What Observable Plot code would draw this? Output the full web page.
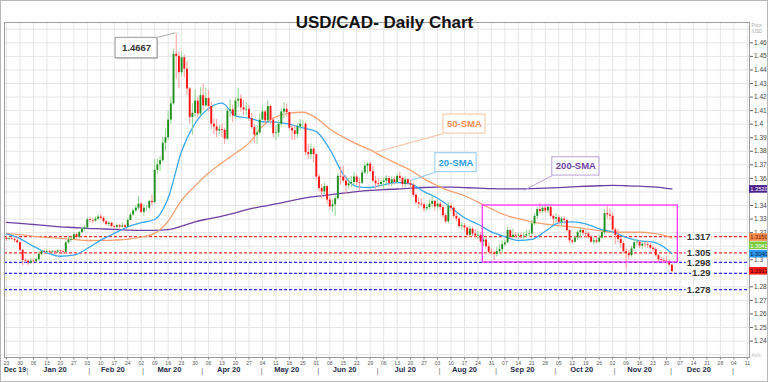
<!DOCTYPE html>
<html><head><meta charset="utf-8">
<script src="https://cdn.jsdelivr.net/npm/d3@7"></script>
<script src="https://cdn.jsdelivr.net/npm/@observablehq/plot@0.6"></script>
<style>
body{margin:0;background:#fff;}
#chart svg{display:block;outline:1px solid #b8b8b8;outline-offset:-1px;}
</style></head><body><div id="chart"></div>
<script>
const title = "USD/CAD- Daily Chart";
// trading-day index 0 = Mon 23 Dec 2019
const firstOpen = 1.3160;
const closes = [
1.3150,1.3155,1.3150,1.3140,1.3125, 1.3070,1.2995,1.2990,1.2975,1.2990,
1.2985,1.3000,1.3040,1.3060,1.3055, 1.3060,1.3055,1.3060,1.3055,1.3065,
1.3060,1.3055,1.3125,1.3145,1.3150, 1.3185,1.3165,1.3200,1.3225,1.3235,
1.3295,1.3290,1.3285,1.3300,1.3315, 1.3305,1.3280,1.3260,1.3270,1.3245,
1.3240,1.3250,1.3240,1.3250,1.3240, 1.3290,1.3330,1.3360,1.3380,1.3410,
1.3350,1.3380,1.3380,1.3430,1.3420, 1.3660,1.3700,1.3730,1.3860,1.3900,
1.4030,1.4150,1.4515,1.4500,1.4380, 1.4490,1.4405,1.4260,1.4050,1.4080,
1.4170,1.4075,1.4210,1.4135,1.4190, 1.4130,1.4000,1.3980,1.3950,1.3960,
1.3955,1.3890,1.4095,1.4105,1.4060, 1.4170,1.4185,1.4120,1.4105,1.4110,
1.4040,1.3975,1.3920,1.3935,1.4030, 1.4090,1.4025,1.4130,1.4030,1.3930,
1.3935,1.4000,1.4090,1.4110,1.4085, 1.3970,1.3950,1.3925,1.3980,1.4000,
1.4000,1.3790,1.3775,1.3815,1.3775, 1.3610,1.3525,1.3500,1.3540,1.3440,
1.3390,1.3405,1.3450,1.3615,1.3610, 1.3580,1.3545,1.3560,1.3570,1.3610,
1.3570,1.3565,1.3640,1.3690,1.3705, 1.3650,1.3580,1.3560,1.3555,1.3570,
1.3580,1.3600,1.3565,1.3590,1.3570, 1.3615,1.3600,1.3555,1.3590,1.3560,
1.3550,1.3475,1.3420,1.3410,1.3405, 1.3375,1.3385,1.3410,1.3430,1.3390,
1.3410,1.3385,1.3325,1.3280,1.3395, 1.3380,1.3320,1.3300,1.3245,1.3250,
1.3235,1.3180,1.3225,1.3190,1.3175, 1.3180,1.3130,1.3145,1.3095,1.3055,
1.3050,1.3040,1.3060,1.3075,1.3110, 1.3125,1.3215,1.3165,1.3180,1.3175,
1.3180,1.3170,1.3175,1.3185,1.3190, 1.3265,1.3320,1.3370,1.3355,1.3380,
1.3360,1.3385,1.3320,1.3300,1.3310, 1.3275,1.3300,1.3290,1.3215,1.3140,
1.3130,1.3160,1.3200,1.3215,1.3195, 1.3190,1.3165,1.3130,1.3140,1.3130,
1.3160,1.3200,1.3340,1.3330,1.3320, 1.3220,1.3180,1.3150,1.3120,1.3060,
1.3045,1.3030,1.3080,1.3125,1.3130, 1.3100,1.3115,1.3110,1.3105,1.3085,
1.3075,1.3030,1.3000,1.2995,1.2990, 1.2985,1.2960,1.2913];
const highs = [
1.3175,1.3165,1.3160,1.3160,1.3165, 1.3130,1.3075,1.3005,1.3000,1.3010,
1.3010,1.3015,1.3060,1.3070,1.3070, 1.3075,1.3070,1.3070,1.3065,1.3075,
1.3070,1.3070,1.3135,1.3165,1.3165, 1.3200,1.3195,1.3210,1.3240,1.3250,
1.3310,1.3310,1.3305,1.3315,1.3330, 1.3330,1.3315,1.3290,1.3280,1.3275,
1.3255,1.3265,1.3260,1.3270,1.3260, 1.3305,1.3345,1.3375,1.3395,1.3465,
1.3420,1.3405,1.3400,1.3440,1.3480, 1.3740,1.3740,1.3760,1.3900,1.3965,
1.4095,1.4200,1.4550,1.4667,1.4530, 1.4530,1.4510,1.4460,1.4270,1.4150,
1.4250,1.4200,1.4270,1.4295,1.4265, 1.4250,1.4165,1.4040,1.4035,1.3990,
1.4000,1.3970,1.4110,1.4180,1.4140, 1.4195,1.4265,1.4215,1.4175,1.4160,
1.4140,1.4080,1.3995,1.3990,1.4075, 1.4135,1.4100,1.4170,1.4140,1.4050,
1.3990,1.4025,1.4110,1.4160,1.4150, 1.4090,1.3990,1.3990,1.4000,1.4035,
1.4025,1.4010,1.3850,1.3855,1.3830, 1.3785,1.3630,1.3555,1.3565,1.3545,
1.3460,1.3440,1.3470,1.3635,1.3685, 1.3690,1.3620,1.3600,1.3615,1.3645,
1.3630,1.3600,1.3660,1.3715,1.3715, 1.3720,1.3690,1.3615,1.3600,1.3590,
1.3600,1.3620,1.3615,1.3610,1.3610, 1.3630,1.3645,1.3610,1.3610,1.3600,
1.3590,1.3565,1.3490,1.3455,1.3450, 1.3420,1.3405,1.3440,1.3470,1.3440,
1.3435,1.3425,1.3400,1.3340,1.3420, 1.3415,1.3390,1.3345,1.3310,1.3275,
1.3265,1.3240,1.3245,1.3240,1.3225, 1.3210,1.3200,1.3180,1.3160,1.3125,
1.3085,1.3065,1.3090,1.3110,1.3140, 1.3145,1.3240,1.3220,1.3225,1.3200,
1.3200,1.3195,1.3200,1.3215,1.3220, 1.3290,1.3340,1.3385,1.3420,1.3395,
1.3410,1.3400,1.3400,1.3330,1.3340, 1.3330,1.3315,1.3320,1.3295,1.3220,
1.3155,1.3175,1.3215,1.3230,1.3230, 1.3215,1.3205,1.3180,1.3160,1.3160,
1.3185,1.3215,1.3370,1.3390,1.3375, 1.3345,1.3235,1.3225,1.3160,1.3135,
1.3080,1.3070,1.3100,1.3150,1.3150, 1.3140,1.3130,1.3130,1.3135,1.3120,
1.3100,1.3090,1.3040,1.3015,1.3010, 1.3020,1.2995,1.2965];
const lows = [
1.3135,1.3140,1.3145,1.3125,1.3115, 1.3060,1.2955,1.2975,1.2955,1.2965,
1.2970,1.2975,1.2990,1.3030,1.3040, 1.3045,1.3045,1.3040,1.3040,1.3045,
1.3050,1.3040,1.3050,1.3115,1.3130, 1.3150,1.3150,1.3155,1.3195,1.3210,
1.3230,1.3275,1.3265,1.3275,1.3285, 1.3295,1.3270,1.3250,1.3240,1.3235,
1.3230,1.3225,1.3220,1.3235,1.3225, 1.3240,1.3285,1.3320,1.3345,1.3365,
1.3340,1.3320,1.3355,1.3370,1.3400, 1.3420,1.3630,1.3650,1.3720,1.3800,
1.3880,1.4000,1.4140,1.4330,1.4260, 1.4350,1.4340,1.4210,1.4000,1.3920,
1.4050,1.4045,1.4060,1.4100,1.4125, 1.4090,1.3960,1.3920,1.3900,1.3925,
1.3900,1.3850,1.3880,1.4050,1.4010, 1.4040,1.4120,1.4090,1.4065,1.4060,
1.4020,1.3960,1.3855,1.3850,1.3925, 1.4030,1.4000,1.4020,1.4000,1.3900,
1.3880,1.3900,1.3975,1.4040,1.4050, 1.3950,1.3880,1.3880,1.3900,1.3950,
1.3975,1.3770,1.3740,1.3740,1.3715, 1.3580,1.3500,1.3450,1.3480,1.3410,
1.3365,1.3350,1.3320,1.3440,1.3550, 1.3565,1.3485,1.3520,1.3530,1.3545,
1.3545,1.3510,1.3555,1.3630,1.3630, 1.3640,1.3570,1.3520,1.3530,1.3540,
1.3520,1.3540,1.3540,1.3540,1.3550, 1.3560,1.3580,1.3530,1.3530,1.3545,
1.3525,1.3460,1.3405,1.3380,1.3385, 1.3350,1.3355,1.3370,1.3385,1.3360,
1.3370,1.3360,1.3310,1.3265,1.3265, 1.3355,1.3305,1.3280,1.3230,1.3220,
1.3205,1.3160,1.3165,1.3170,1.3165, 1.3150,1.3120,1.3100,1.3085,1.3045,
1.3035,1.2995,1.3020,1.3040,1.3045, 1.3095,1.3120,1.3155,1.3150,1.3155,
1.3150,1.3150,1.3145,1.3160,1.3165, 1.3170,1.3250,1.3300,1.3335,1.3340,
1.3340,1.3340,1.3310,1.3260,1.3270, 1.3250,1.3250,1.3260,1.3205,1.3120,
1.3115,1.3120,1.3140,1.3165,1.3175, 1.3160,1.3150,1.3120,1.3110,1.3115,
1.3120,1.3150,1.3185,1.3300,1.3290, 1.3205,1.3110,1.3130,1.3085,1.3045,
1.2930,1.3000,1.3020,1.3065,1.3105, 1.3080,1.3075,1.3090,1.3085,1.3070,
1.3055,1.3020,1.2985,1.2980,1.2970, 1.2970,1.2945,1.2900];

// moving averages, at these trading-day indices
const sampleDays = [0,5,10,15,20,25,30,35,40,45,50,55,60,65,70,75,80,85,90,95,100,105,110,115,120,125,130,135,140,145,150,155,160,165,170,175,180,185,190,195,200,205,210,215,220,225,230,235,240,245,247];
const sma20 = [1.3190,1.3156,1.3099,1.3051,1.3026,1.3034,1.3083,1.3145,1.3194,1.3243,1.3273,1.3297,1.3455,1.3800,1.4005,1.4115,1.4155,1.4060,1.4045,1.4018,1.4015,1.4000,1.3972,1.3945,1.3815,1.3630,1.3540,1.3533,1.3552,1.3570,1.3559,1.3502,1.3454,1.3385,1.3310,1.3262,1.3205,1.3170,1.3142,1.3150,1.3210,1.3272,1.3280,1.3265,1.3228,1.3205,1.3165,1.3140,1.3130,1.3080,1.3045];
const sma50 = [1.3195,1.3185,1.3172,1.3165,1.3158,1.3150,1.3142,1.3143,1.3145,1.3150,1.3168,1.3195,1.3285,1.3440,1.3545,1.3640,1.3715,1.3785,1.3860,1.3985,1.4055,1.4082,1.4088,1.4045,1.3965,1.3905,1.3855,1.3810,1.3756,1.3708,1.3660,1.3597,1.3545,1.3505,1.3472,1.3425,1.3375,1.3330,1.3303,1.3280,1.3263,1.3252,1.3243,1.3228,1.3215,1.3203,1.3203,1.3203,1.3195,1.3175,1.3160];
const sma200 = [1.3275,1.3268,1.3260,1.3252,1.3243,1.3238,1.3232,1.3228,1.3224,1.3219,1.3216,1.3216,1.3222,1.3248,1.3280,1.3302,1.3322,1.3346,1.3373,1.3393,1.3412,1.3433,1.3453,1.3467,1.3478,1.3491,1.3503,1.3512,1.3518,1.3522,1.3528,1.3533,1.3535,1.3535,1.3532,1.3529,1.3525,1.3523,1.3523,1.3525,1.3528,1.3532,1.3537,1.3542,1.3546,1.3548,1.3546,1.3543,1.3537,1.3527,1.3522];

// horizontal levels
const levels = [1.317, 1.305, 1.298, 1.29, 1.278];
const levelLabels = ["1.317", "1.305", "1.298", "1.29", "1.278"];
const levelKinds = ["res", "res", "sup", "sup", "sup"];

// right-axis price tags
const tagLabels = ["1.3520", "1.3150", "1.3041", "1.3040", "1.2913"];
const tagAt = [1.3519, 1.3164, 1.3103, 1.3041, 1.2915];
// axis labels hidden behind the tags in the reference
const hiddenTicks = [1.35, 1.31, 1.29];

// callouts (trading-day index / price)
const calloutLabels = ["1.4667", "50-SMA", "20-SMA", "200-SMA"];
const calloutBox = [[40.5, 56.05, 1.4486, 1.4637], [162.2, 177.8, 1.3931, 1.4071], [159.2, 174.5, 1.3646, 1.3786], [202.6, 220.1, 1.3621, 1.3756]];
const calloutLead = [[56.05, 1.4641, 62.7, 1.4674], [162.2, 1.3931, 137, 1.3793], [159.2, 1.3646, 150, 1.3584], [202.6, 1.3621, 192, 1.3511]];
const rangeBox = [176.8, 249.2, 1.2980, 1.3400];

// ---------- build ----------
const start = Date.UTC(2019, 11, 23);
const dateOf = i => new Date(start + (Math.floor(i / 5) * 7 + (i % 5)) * 864e5);
const lastIdx = 275;
const mondays = d3.range(0, lastIdx + 1, 5);
const monthStarts = [];
for (let i = 1; i <= lastIdx; i++) if (dateOf(i).getUTCMonth() !== dateOf(i - 1).getUTCMonth()) monthStarts.push(i);
const months = [];
for (let k = 0; k < monthStarts.length - 1; k++) {
  months.push({mid: (monthStarts[k] + monthStarts[k + 1] - 1) / 2, label: d3.utcFormat("%b %y")(dateOf(monthStarts[k]))});
}

const candles = closes.map((c, i) => ({i, open: i === 0 ? firstOpen : closes[i - 1], close: c, high: highs[i], low: lows[i]}));
const upC = candles.filter(d => d.close >= d.open);
const dnC = candles.filter(d => d.close < d.open);
const sma = sampleDays.map((i, k) => ({i, s20: sma20[k], s50: sma50[k], s200: sma200[k]}));

const xDom = [-0.742, 275.8];
const yDom = [1.2279, 1.4750];
const yGrid = d3.range(123, 148).map(v => v / 100);
const yTicks = d3.range(124, 147).map(v => v / 100);
const yFmt = d => hiddenTicks.some(h => Math.abs(h - d) < 1e-6) ? "" : String(+d.toFixed(2));

const calloutStyle = [
  {stroke: "#9a9a9a", text: "#333", lead: "#aaaaaa"},
  {stroke: "#f9c2a2", text: "#f48c55", lead: "#f9bf9c"},
  {stroke: "#93cbf2", text: "#2f9de6", lead: "#93cbf2"},
  {stroke: "#b9a2d8", text: "#6b3ea3", lead: "#b9a2d8"}
];
const tagStyle = [
  {fill: "#4a1f8a", text: "#fff"},
  {fill: "#f58a4c", text: "#6a2000"},
  {fill: "#7acb3c", text: "#fff"},
  {fill: "#2a96ee", text: "#0a1f40"},
  {fill: "#ff1c1c", text: "#2a0000"}
];

const marks = [
  Plot.gridY(yGrid, {stroke: "#e6e6e6", strokeOpacity: 1}),
  Plot.gridX(mondays, {stroke: "#e6e6e6", strokeOpacity: 1}),
  Plot.ruleY(levels.filter((v, k) => levelKinds[k] === "res"), {stroke: "#ff2a2a", strokeWidth: 1.3, strokeDasharray: "3,2"}),
  Plot.ruleY(levels.filter((v, k) => levelKinds[k] === "sup"), {stroke: "#2a2aff", strokeWidth: 1.3, strokeDasharray: "3,2"}),
  Plot.line(sma, {x: "i", y: "s200", stroke: "#6e3fa3", strokeWidth: 1.3, curve: "monotone-x"}),
  Plot.line(sma, {x: "i", y: "s50", stroke: "#f7a173", strokeWidth: 1.3, curve: "monotone-x"}),
  Plot.line(sma, {x: "i", y: "s20", stroke: "#3aa8f0", strokeWidth: 1.3, curve: "monotone-x"}),
  Plot.ruleX(upC, {x: "i", y1: "low", y2: "high", stroke: "#8fd68f", strokeWidth: 1}),
  Plot.ruleX(dnC, {x: "i", y1: "low", y2: "high", stroke: "#ff9c9c", strokeWidth: 1}),
  Plot.ruleX(upC, {x: "i", y1: "open", y2: "close", stroke: "#1f8f1f", strokeWidth: 1.9}),
  Plot.ruleX(dnC, {x: "i", y1: "open", y2: "close", stroke: "#ff1414", strokeWidth: 1.9}),
  Plot.rect([rangeBox], {x1: d => d[0], x2: d => d[1], y1: d => d[2], y2: d => d[3], fill: "none", stroke: "#ff33ff", strokeWidth: 1.3})
];

calloutLabels.forEach((label, k) => {
  const b = calloutBox[k], l = calloutLead[k], s = calloutStyle[k];
  marks.push(Plot.link([l], {x1: d => d[0], y1: d => d[1], x2: d => d[2], y2: d => d[3], stroke: s.lead, strokeWidth: 1}));
  if (k === 0) marks.push(Plot.rect([b], {x1: d => d[0] + 0.4, x2: d => d[1] + 0.4, y1: d => d[2] - 0.0008, y2: d => d[3] - 0.0008, fill: "#c8c8c8"}));
  marks.push(Plot.rect([b], {x1: d => d[0], x2: d => d[1], y1: d => d[2], y2: d => d[3], fill: "white", stroke: s.stroke, strokeWidth: 1}));
  marks.push(Plot.text([b], {x: d => (d[0] + d[1]) / 2, y: d => (d[2] + d[3]) / 2, text: () => label, fill: s.text, fontSize: 9.5, fontWeight: "bold"}));
});

marks.push(
  Plot.text(levels, {y: d => d, text: (d, k) => levelLabels[k], frameAnchor: "right", dx: -39, fill: "#333", fontSize: 9.5, fontWeight: "bold", stroke: "white", strokeWidth: 4}),
  Plot.frame({stroke: "#9c9c9c"}),
  Plot.axisY(yTicks, {anchor: "right", tickSize: 3, tickPadding: 1.5, fontSize: 6.5, fill: "#444", stroke: "#666", tickFormat: yFmt, label: null}),
  Plot.axisX(mondays, {anchor: "bottom", tickSize: 2.5, tickPadding: 1.5, fontSize: 5, fill: "#555", stroke: "#888", tickFormat: i => d3.utcFormat("%d")(dateOf(i)), label: null}),
  Plot.text(months, {x: "mid", text: "label", frameAnchor: "bottom", dy: 14, fontSize: 7.5, fontWeight: "bold", fill: "#1d2b4a"}),
  Plot.text(["Dec 19"], {frameAnchor: "bottom-left", textAnchor: "start", dx: -0.5, dy: 14, fontSize: 6.8, fontWeight: "bold", fill: "#1d2b4a"}),
  Plot.text(monthStarts, {x: d => d + 0.7, text: () => "|", frameAnchor: "bottom", dy: 15, fontSize: 8, fill: "#777"}),
  Plot.text(["Price\n/USD"], {frameAnchor: "top-right", textAnchor: "start", lineAnchor: "top", dx: 2, dy: 0.5, fontSize: 4.5, lineHeight: 1.3, fill: "#aaa"}),
  Plot.text(["Axis"], {frameAnchor: "bottom-right", textAnchor: "start", lineAnchor: "bottom", dx: 2, dy: -1, fontSize: 5, fill: "#bbb"}),
  Plot.text([title], {frameAnchor: "top", dx: 7.5, dy: -6.5, fontSize: 17, fontWeight: "bold", fill: "#111"})
);

tagLabels.forEach((label, k) => {
  const s = tagStyle[k];
  marks.push(Plot.rect([tagAt[k]], {x1: () => xDom[1], x2: () => xDom[1] + 8, y1: d => d - 0.0028, y2: d => d + 0.0028, fill: s.fill}));
  marks.push(Plot.text([tagAt[k]], {y: d => d, text: () => label, frameAnchor: "right", textAnchor: "start", dx: 0.8, fontSize: 5.7, fill: s.text}));
});

const chart = Plot.plot({
  width: 768, height: 382,
  marginLeft: 4, marginRight: 19, marginTop: 22, marginBottom: 25,
  x: {type: "linear", domain: xDom, label: null},
  y: {domain: yDom, label: null},
  style: {fontFamily: "Liberation Sans, Arial, sans-serif", background: "white", overflow: "visible"},
  marks
});
document.getElementById("chart").appendChild(chart);
</script></body></html>
